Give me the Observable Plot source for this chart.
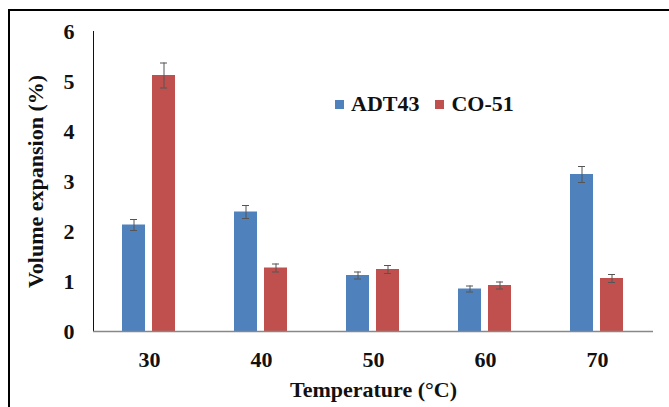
<!DOCTYPE html>
<html>
<head>
<meta charset="utf-8">
<script src="https://cdn.jsdelivr.net/npm/d3@7"></script>
<script src="https://cdn.jsdelivr.net/npm/@observablehq/plot@0.6"></script>
<style>
  html, body { margin: 0; padding: 0; background: #fff; }
  #wrap { position: relative; width: 669px; height: 407px; overflow: hidden; }
  #frame { position: absolute; left: 8px; top: 9px; width: 700px; height: 420px;
           border-top: 2px solid #000; border-left: 2px solid #000; pointer-events: none; }
  #legend { position: absolute; left: 335px; top: 91px; display: flex; align-items: center;
            font-family: "Liberation Serif", "Times New Roman", serif; font-weight: bold; font-size: 22px; color: #111; }
  #legend .sw { display: inline-block; width: 9px; height: 9px; margin-right: 7px; }
  #legend .item { display: flex; align-items: center; margin-right: 16px; }
  svg [aria-label^="y-axis"] path, svg [aria-label^="y-axis"] line { stroke: #888; }
</style>
</head>
<body>
<div id="wrap"><div id="chart"></div><div id="legend"></div><div id="frame"></div></div>
<script>
const temps = ["30", "40", "50", "60", "70"];
const seriesNames = ["ADT43", "CO-51"];
const adt43 = [2.13, 2.39, 1.12, 0.85, 3.14];
const adt43Err = [0.11, 0.13, 0.07, 0.06, 0.16];
const co51 = [5.12, 1.27, 1.24, 0.92, 1.06];
const co51Err = [0.25, 0.08, 0.08, 0.07, 0.08];
const yTicks = [0, 1, 2, 3, 4, 5, 6];
const colors = ["#4F81BD", "#C0504D"];

const data = [];
temps.forEach((t, i) => {
  data.push({temp: t, series: seriesNames[0], value: adt43[i], err: adt43Err[i]});
  data.push({temp: t, series: seriesNames[1], value: co51[i], err: co51Err[i]});
});

const chart = Plot.plot({
  width: 669,
  height: 407,
  marginLeft: 93,
  marginRight: 16,
  marginTop: 31,
  marginBottom: 76,
  style: {fontFamily: "'Liberation Serif', 'Times New Roman', serif", fontSize: "22px", fontWeight: "bold", color: "#111", background: "transparent"},
  facet: {data, x: "temp"},
  fx: {domain: temps, padding: 0, axis: "bottom", tickSize: 0, tickPadding: 20, label: "Temperature (°C)", labelAnchor: "center", labelOffset: 65, labelArrow: false},
  x: {domain: seriesNames, axis: null, paddingInner: 0.226, paddingOuter: 0.92},
  y: {domain: [0, 6], ticks: yTicks, tickSize: 0, tickPadding: 19, line: true, label: "Volume expansion (%)", labelAnchor: "center", labelOffset: 66, labelArrow: false, tickFormat: d3.format("d")},
  color: {domain: seriesNames, range: colors},
  marks: [
    Plot.barY(data, {x: "series", y: "value", fill: "series"}),
    Plot.ruleX(data, {x: "series", y1: d => d.value - d.err, y2: d => d.value + d.err, stroke: "#555", strokeWidth: 1}),
    Plot.tickY(data, {x: "series", y: d => d.value + d.err, stroke: "#555", strokeWidth: 1, inset: 8}),
    Plot.tickY(data, {x: "series", y: d => d.value - d.err, stroke: "#555", strokeWidth: 1, inset: 8}),
    Plot.ruleY([0], {stroke: "#888", strokeWidth: 1.5})
  ]
});
document.getElementById("chart").appendChild(chart);

const legend = document.getElementById("legend");
seriesNames.forEach((name, i) => {
  const item = document.createElement("div");
  item.className = "item";
  const sw = document.createElement("span");
  sw.className = "sw";
  sw.style.background = colors[i];
  item.appendChild(sw);
  item.appendChild(document.createTextNode(name));
  legend.appendChild(item);
});
</script>
</body>
</html>
